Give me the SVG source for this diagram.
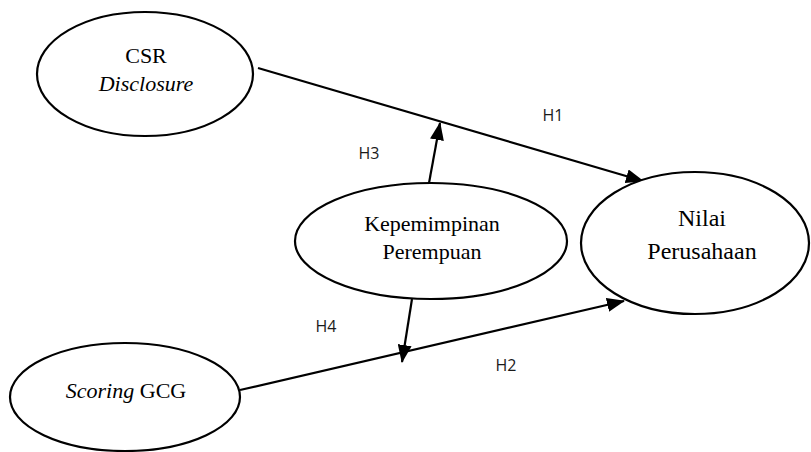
<svg xmlns="http://www.w3.org/2000/svg" width="811" height="452" viewBox="0 0 811 452">
<style>
.node ellipse{fill:#fff;stroke:#000;stroke-width:2.2}
.nt{font-family:"Liberation Serif","Times New Roman",serif;font-size:22px;fill:#000;text-anchor:middle}
.big{font-size:24px}
.lbl{font-family:"Open Sans","Liberation Sans",sans-serif;font-size:16px;fill:#1a1a1a;text-anchor:middle}
.edge{stroke:#000;stroke-width:2.2;fill:none;marker-end:url(#ah)}
</style>
<defs>
<marker id="ah" viewBox="0 0 18 14" refX="17" refY="7" markerWidth="18" markerHeight="14" markerUnits="userSpaceOnUse" orient="auto">
<path d="M0,0 L18,7 L0,14 z" fill="#000"/>
</marker>
</defs>
<g id="connectors">
<line class="edge" x1="258" y1="68" x2="643" y2="181"/>
<line class="edge" x1="240" y1="390" x2="624" y2="301"/>
<line class="edge" x1="429" y1="183" x2="440" y2="123"/>
<line class="edge" x1="412" y1="299" x2="402" y2="362"/>
<text class="lbl" x="553" y="121">H1</text>
<text class="lbl" x="369" y="159">H3</text>
<text class="lbl" x="326" y="332">H4</text>
<text class="lbl" x="506" y="371">H2</text>
</g>
<g id="csr" class="node">
<ellipse cx="145" cy="74" rx="108" ry="62"/>
<text class="nt" x="146" y="63">CSR</text>
<text class="nt" x="146" y="91" font-style="italic">Disclosure</text>
</g>
<g id="kepemimpinan" class="node">
<ellipse cx="431" cy="241" rx="136" ry="58"/>
<text class="nt" x="432" y="231">Kepemimpinan</text>
<text class="nt" x="432" y="259">Perempuan</text>
</g>
<g id="nilai" class="node">
<ellipse cx="695" cy="243" rx="114" ry="71"/>
<text class="nt big" x="702" y="226">Nilai</text>
<text class="nt big" x="702" y="259">Perusahaan</text>
</g>
<g id="gcg" class="node">
<ellipse cx="125" cy="397" rx="115" ry="54"/>
<text class="nt" x="126" y="398"><tspan font-style="italic">Scoring</tspan> GCG</text>
</g>
</svg>
